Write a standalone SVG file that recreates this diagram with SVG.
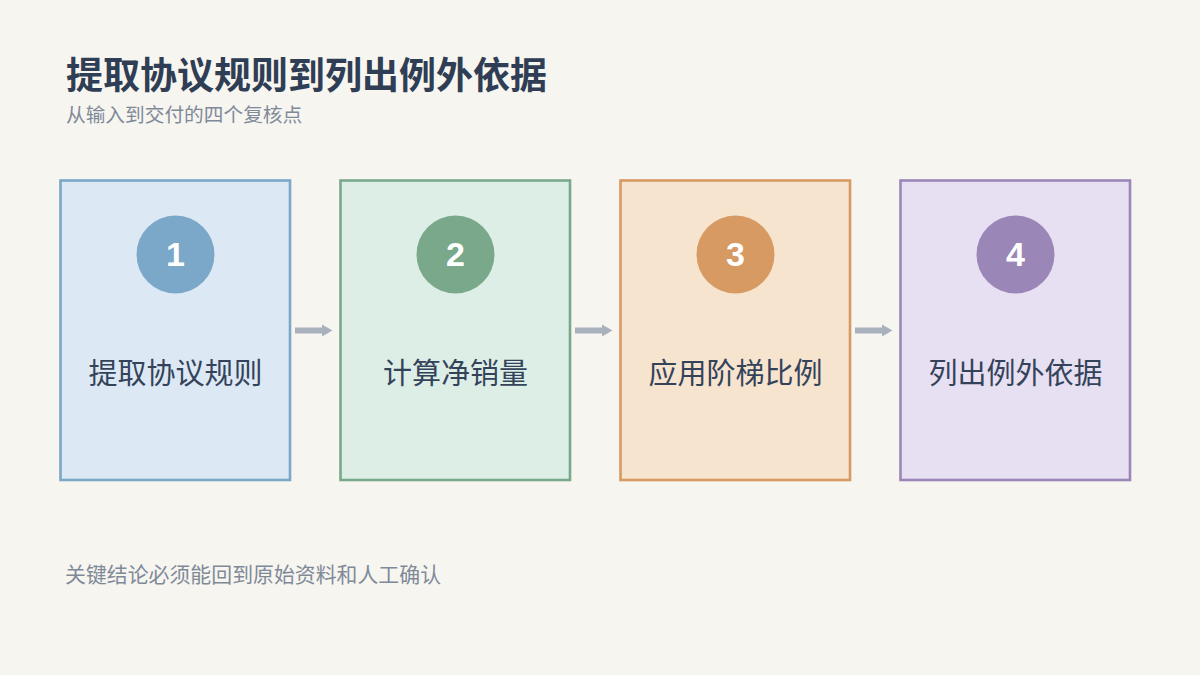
<svg xmlns="http://www.w3.org/2000/svg" width="1200" height="675" viewBox="0 0 1200 675">
<style>
.title{font-family:"Noto Sans CJK SC","Noto Sans",sans-serif;font-weight:700;font-size:37px;fill:#2f3e55}
.sub{font-family:"Noto Sans CJK SC","Noto Sans",sans-serif;font-size:19.7px;fill:#7f8a99}
.foot{font-family:"Noto Sans CJK SC","Noto Sans",sans-serif;font-size:20.9px;fill:#7f8a99}
.lbl{font-family:"Noto Sans CJK SC","Noto Sans",sans-serif;font-size:29px;fill:#34435a;text-anchor:middle}
.num{font-family:"Liberation Sans","Noto Sans",sans-serif;font-weight:700;font-size:34px;fill:#ffffff;text-anchor:middle}
.box{stroke-width:2.6}
.arrow{fill:#a9b1bd}
</style>
<rect width="1200" height="675" fill="#f7f5f0"/>
<text class="title" x="66" y="89">提取协议规则到列出例外依据</text>
<text class="sub" x="66" y="122">从输入到交付的四个复核点</text>

<g id="node1">
<rect class="box" x="60.5" y="180.5" width="229.5" height="299.5" fill="#dce9f5" stroke="#7ba7c9"/>
<circle cx="175.5" cy="254.5" r="39" fill="#7ba7c9"/>
<text class="num" x="175.5" y="266">1</text>
<text class="lbl" x="175.5" y="383.5">提取协议规则</text>
</g>
<g id="node2">
<rect class="box" x="340.5" y="180.5" width="229.5" height="299.5" fill="#ddeee6" stroke="#79a88b"/>
<circle cx="455.5" cy="254.5" r="39" fill="#79a88b"/>
<text class="num" x="455.5" y="266">2</text>
<text class="lbl" x="455.5" y="383.5">计算净销量</text>
</g>
<g id="node3">
<rect class="box" x="620.5" y="180.5" width="229.5" height="299.5" fill="#f7e4cf" stroke="#d69a62"/>
<circle cx="735.5" cy="254.5" r="39" fill="#d69a62"/>
<text class="num" x="735.5" y="266">3</text>
<text class="lbl" x="735.5" y="383.5">应用阶梯比例</text>
</g>
<g id="node4">
<rect class="box" x="900.5" y="180.5" width="229.5" height="299.5" fill="#e7dff2" stroke="#9a86b7"/>
<circle cx="1015.5" cy="254.5" r="39" fill="#9a86b7"/>
<text class="num" x="1015.5" y="266">4</text>
<text class="lbl" x="1015.5" y="383.5">列出例外依据</text>
</g>

<g id="connectors">
<polygon class="arrow" points="295,327.5 322,327.5 322,324.5 332.5,330.5 322,336.5 322,333.5 295,333.5"/>
<polygon class="arrow" points="575,327.5 602,327.5 602,324.5 612.5,330.5 602,336.5 602,333.5 575,333.5"/>
<polygon class="arrow" points="855,327.5 882,327.5 882,324.5 892.5,330.5 882,336.5 882,333.5 855,333.5"/>
</g>

<text class="foot" x="65" y="582">关键结论必须能回到原始资料和人工确认</text>
</svg>
